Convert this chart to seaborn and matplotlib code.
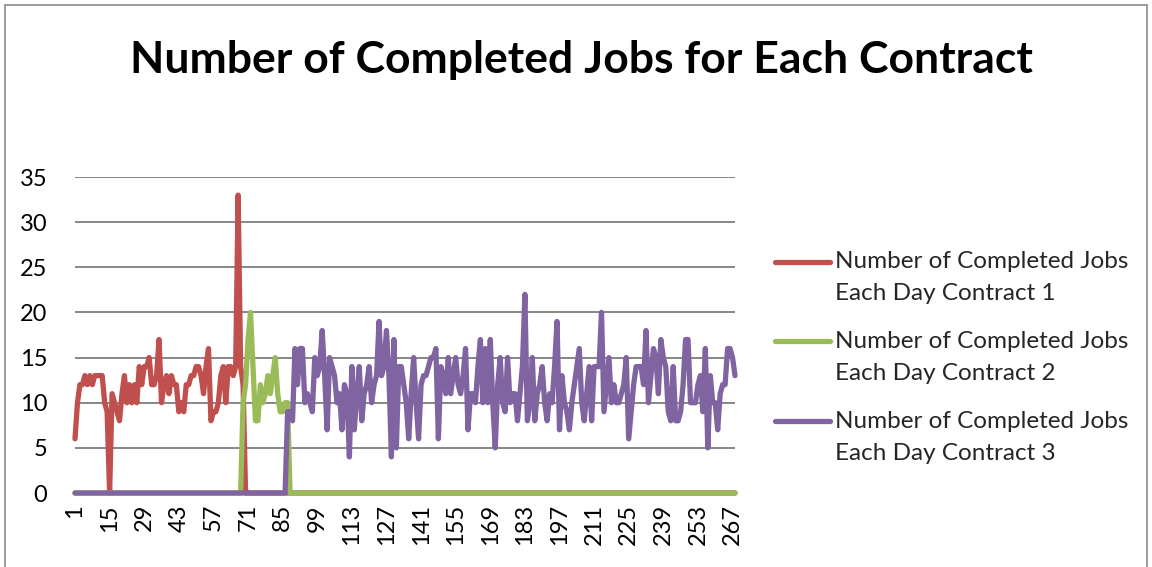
"""Line chart: number of completed jobs per day for each contract."""

import matplotlib.pyplot as plt
import numpy as np
import pandas as pd
import seaborn as sns
from matplotlib.lines import Line2D
from matplotlib.patches import Rectangle

N_DAYS = 268

# values, only the active stretch of each contract
CONTRACT1 = [
    6, 10, 12, 12, 13, 12, 13, 12, 13, 13, 13, 13, 10, 9, 0, 11, 10, 9, 8, 11,
    13, 10, 12, 10, 12, 10, 14, 12, 14, 14, 15, 12, 12, 13, 17, 10, 12, 13, 11, 13,
    12, 12, 9, 10, 9, 12, 12, 13, 13, 14, 14, 13, 11, 14, 16, 8, 9, 9, 10, 13,
    14, 10, 14, 14, 13, 14, 33, 14, 12,
]
CONTRACT1_START = 1

CONTRACT2 = [10, 12, 17, 20, 14, 8, 8, 12, 10, 11, 13, 11, 13, 15, 11, 9, 9, 10, 10]
CONTRACT2_START = 69

CONTRACT3 = [
    9, 9, 8, 16, 12, 16, 16, 10, 11, 10, 9, 15, 13, 14, 18, 13, 7, 15, 14, 13,
    10, 11, 7, 12, 11, 4, 14, 7, 11, 14, 8, 11, 12, 14, 10, 12, 13, 19, 13, 14,
    18, 13, 4, 17, 5, 14, 14, 12, 10, 6, 11, 15, 10, 6, 12, 13, 13, 14, 15, 15,
    16, 6, 14, 13, 11, 15, 11, 13, 15, 12, 11, 13, 16, 7, 11, 11, 10, 14, 17, 10,
    16, 10, 17, 10, 5, 12, 15, 10, 9, 15, 10, 11, 11, 8, 11, 14, 22, 8, 10, 15,
    8, 11, 12, 14, 10, 8, 11, 10, 14, 19, 7, 13, 10, 9, 7, 10, 12, 14, 16, 10,
    8, 11, 14, 8, 14, 14, 14, 20, 9, 12, 15, 10, 12, 10, 10, 11, 12, 15, 6, 9,
    12, 14, 14, 14, 12, 18, 10, 13, 16, 15, 11, 17, 15, 14, 9, 8, 14, 8, 8, 9,
    12, 17, 17, 10, 10, 10, 12, 13, 9, 16, 5, 13, 10, 10, 7, 11, 12, 12, 16, 16,
    15, 13,
]
CONTRACT3_START = 87

LABELS = [
    "Number of Completed Jobs Each Day Contract 1",
    "Number of Completed Jobs Each Day Contract 2",
    "Number of Completed Jobs Each Day Contract 3",
]
COLORS = ["#C0504D", "#9BBB59", "#8064A2"]
X_TICKS = list(range(1, N_DAYS + 1, 14))


def full_series(active, start):
    """Zero before and after the contract's active days."""
    before = [0] * (start - 1)
    after = [0] * (N_DAYS - len(before) - len(active))
    return before + list(active) + after


def build_frame():
    days = np.arange(1, N_DAYS + 1)
    parts = []
    for label, active, start in zip(
        LABELS,
        [CONTRACT1, CONTRACT2, CONTRACT3],
        [CONTRACT1_START, CONTRACT2_START, CONTRACT3_START],
    ):
        parts.append(pd.DataFrame({
            "day": days, "jobs": full_series(active, start), "series": label,
        }))
    return pd.concat(parts, ignore_index=True)


def main():
    sns.set_style("white")
    plt.rcParams["font.family"] = ["Lato", "DejaVu Sans"]

    df = build_frame()

    fig = plt.figure(figsize=(11.52, 5.67), dpi=100)
    ax = fig.add_axes([75 / 1152, 1 - 493 / 567, 660 / 1152, 316 / 567])

    sns.lineplot(
        data=df, x="day", y="jobs", hue="series", hue_order=LABELS,
        palette=COLORS, linewidth=3.8, legend=False, ax=ax,
        solid_capstyle="round", solid_joinstyle="round", clip_on=False,
    )

    ax.set_xlim(1, N_DAYS)
    ax.set_ylim(0, 35)
    ax.set_yticks(range(0, 36, 5))
    ax.set_xticks(X_TICKS)
    ax.set_xticklabels([str(t) for t in X_TICKS], rotation=90)
    ax.set_xlabel("")
    ax.set_ylabel("")
    ax.yaxis.grid(True, color="#868686", linewidth=1.4)
    ax.set_axisbelow(True)
    for spine in ax.spines.values():
        spine.set_visible(False)
    ax.tick_params(axis="y", labelsize=17, length=0, pad=20, labelcolor="black")
    ax.tick_params(axis="x", labelsize=17, length=0, pad=8, labelcolor="black")

    fig.text(0.505, 0.895, "Number of Completed Jobs for Each Contract",
             ha="center", va="center", fontsize=32, fontweight="bold",
             color="black")

    # legend drawn by hand: handle sits on the first text line, like Excel
    entry_y = [262, 341, 421]
    for color, label, y in zip(COLORS, LABELS, entry_y):
        yf = 1 - y / 567
        fig.add_artist(Line2D([775 / 1152, 830 / 1152], [yf, yf], color=color,
                              linewidth=3.8, solid_capstyle="round",
                              transform=fig.transFigure))
        first, second = label.split(" Each ")
        fig.text(835 / 1152, yf, first, ha="left", va="center", fontsize=17.5)
        fig.text(835 / 1152, 1 - (y + 32) / 567, "Each " + second,
                 ha="left", va="center", fontsize=17.5)

    fig.add_artist(Rectangle((5 / 1152, -0.01), 1142 / 1152, 1 - 5 / 567 + 0.01,
                             fill=False, edgecolor="#8c8c8c", linewidth=1.2,
                             transform=fig.transFigure))

    fig.savefig("out.png", dpi=100)
    plt.close(fig)


if __name__ == "__main__":
    main()
